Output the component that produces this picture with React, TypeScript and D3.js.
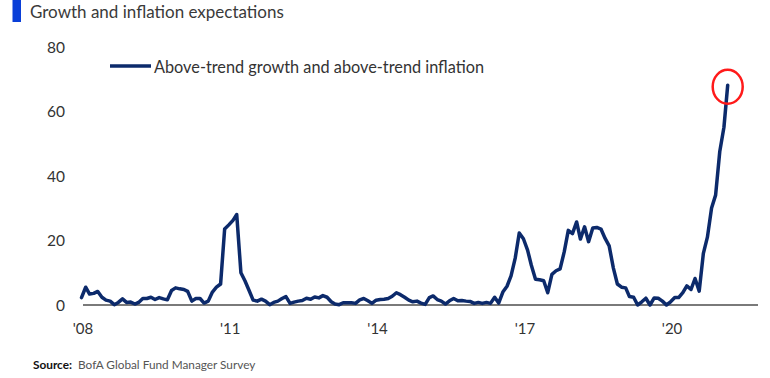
import React from "react";
import * as d3 from "d3";

const title = "Growth and inflation expectations";
const seriesName = "Above-trend growth and above-trend inflation";
const source = "BofA Global Fund Manager Survey";
const startYear = 2008;
const yTicks = [0, 20, 40, 60, 80];
const xTickYears = [2008, 2011, 2014, 2017, 2020];

// monthly values, Jan 2008 onward
const values = [
  2.3, 5.5, 3.4, 3.6, 4.2, 2.4, 1.5, 1.2, 0.1, 0.8, 1.9, 0.8,
  0.9, 0.3, 0.8, 2.0, 2.0, 2.4, 1.7, 2.3, 1.9, 1.6, 4.5, 5.3,
  5.0, 4.8, 4.2, 1.2, 2.0, 2.0, 0.6, 1.2, 4.0, 5.5, 6.5, 23.5,
  24.8, 26.2, 28.0, 10.0, 7.5, 4.5, 1.5, 1.2, 1.8, 1.2, 0.1, 0.8,
  1.2, 2.0, 2.6, 0.5, 0.9, 1.2, 1.4, 2.1, 1.8, 2.5, 2.2, 2.9,
  2.4, 1.0, 0.3, 0.1, 0.7, 0.7, 0.7, 0.5, 1.6, 2.0, 1.3, 0.5,
  1.5, 1.7, 1.8, 2.0, 2.7, 3.8, 3.2, 2.4, 1.5, 1.0, 1.2, 0.6,
  0.2, 2.3, 2.8, 1.7, 1.2, 0.3, 1.3, 2.0, 1.3, 1.4, 1.2, 1.1,
  0.5, 0.8, 0.5, 0.8, 0.5, 2.4, 0.6, 4.0, 5.8, 9.0, 14.5, 22.3,
  20.5, 17.0, 12.3, 8.0, 7.8, 7.5, 3.8, 9.5, 10.6, 11.2, 16.5, 23.1,
  22.1, 25.7, 20.4, 24.2, 19.6, 23.8, 24.0, 23.5, 20.6, 18.3, 11.5, 6.5,
  5.5, 5.3, 2.6, 2.4, 0.0, 1.0, 2.1, 0.0, 2.2, 2.1, 1.2, 0.0,
  1.0, 2.3, 2.3, 3.8, 5.9, 4.8, 8.2, 4.3, 16.0, 21.0, 30.0, 34.0,
  47.5, 55.0, 68.0,
];

const data = values.map((v, i) => ({ date: new Date(startYear, i, 1), value: v }));

const NAVY = "#0c2a6b";
const FONT = "Lato, 'Open Sans', sans-serif";

export default function App() {
  const W = 770;
  const H = 378;

  const x = d3
    .scaleTime()
    .domain([new Date(2008, 0, 1), new Date(2021, 2, 1)])
    .range([81.5, 727.7]);
  const y = d3.scaleLinear().domain([0, 80]).range([305, 46.5]);

  const line = d3
    .line<{ date: Date; value: number }>()
    .x((d) => x(d.date))
    .y((d) => y(d.value));

  const last = data[data.length - 1];

  return (
    <svg
      width={W}
      height={H}
      style={{ position: "absolute", left: 0, top: 0, background: "#fff" }}
      fontFamily={FONT}
    >
      {/* title */}
      <rect x={12.5} y={0} width={8.5} height={22} fill="#0a3fd8" />
      <text x={30} y={18} fontSize={17} fill="#3a3a3a">
        {title}
      </text>

      {/* y axis labels */}
      {yTicks.map((t) => (
        <text
          key={t}
          x={65}
          y={y(t)}
          textAnchor="end"
          dominantBaseline="central"
          fontSize={15.5}
          fill="#333"
        >
          {t}
        </text>
      ))}

      {/* baseline */}
      <line x1={83} x2={758} y1={y(0)} y2={y(0)} stroke="#7a7a7a" strokeWidth={2} />

      {/* x labels */}
      {xTickYears.map((yr) => (
        <text
          key={yr}
          x={x(new Date(yr, 0, 1)) + 1.5}
          y={328}
          textAnchor="middle"
          dominantBaseline="central"
          fontSize={15}
          fill="#333"
        >
          {"'" + String(yr).slice(2)}
        </text>
      ))}

      {/* series line */}
      <path
        d={line(data) || ""}
        fill="none"
        stroke={NAVY}
        strokeWidth={3.5}
        strokeLinejoin="round"
        strokeLinecap="round"
      />

      {/* highlight circle */}
      <ellipse
        cx={x(last.date)}
        cy={y(last.value) + 1.5}
        rx={15}
        ry={17}
        fill="none"
        stroke="#ff1a1a"
        strokeWidth={2.5}
      />

      {/* legend */}
      <line x1={110} x2={151} y1={66} y2={66} stroke={NAVY} strokeWidth={3.5} />
      <text x={154} y={66} dominantBaseline="central" fontSize={16.3} fill="#333">
        {seriesName}
      </text>

      {/* source */}
      <text x={33} y={369} fontSize={11.8} fill="#555">
        <tspan fontWeight="bold" fill="#111">Source:</tspan>
        <tspan dx={6}>{source}</tspan>
      </text>
    </svg>
  );
}
